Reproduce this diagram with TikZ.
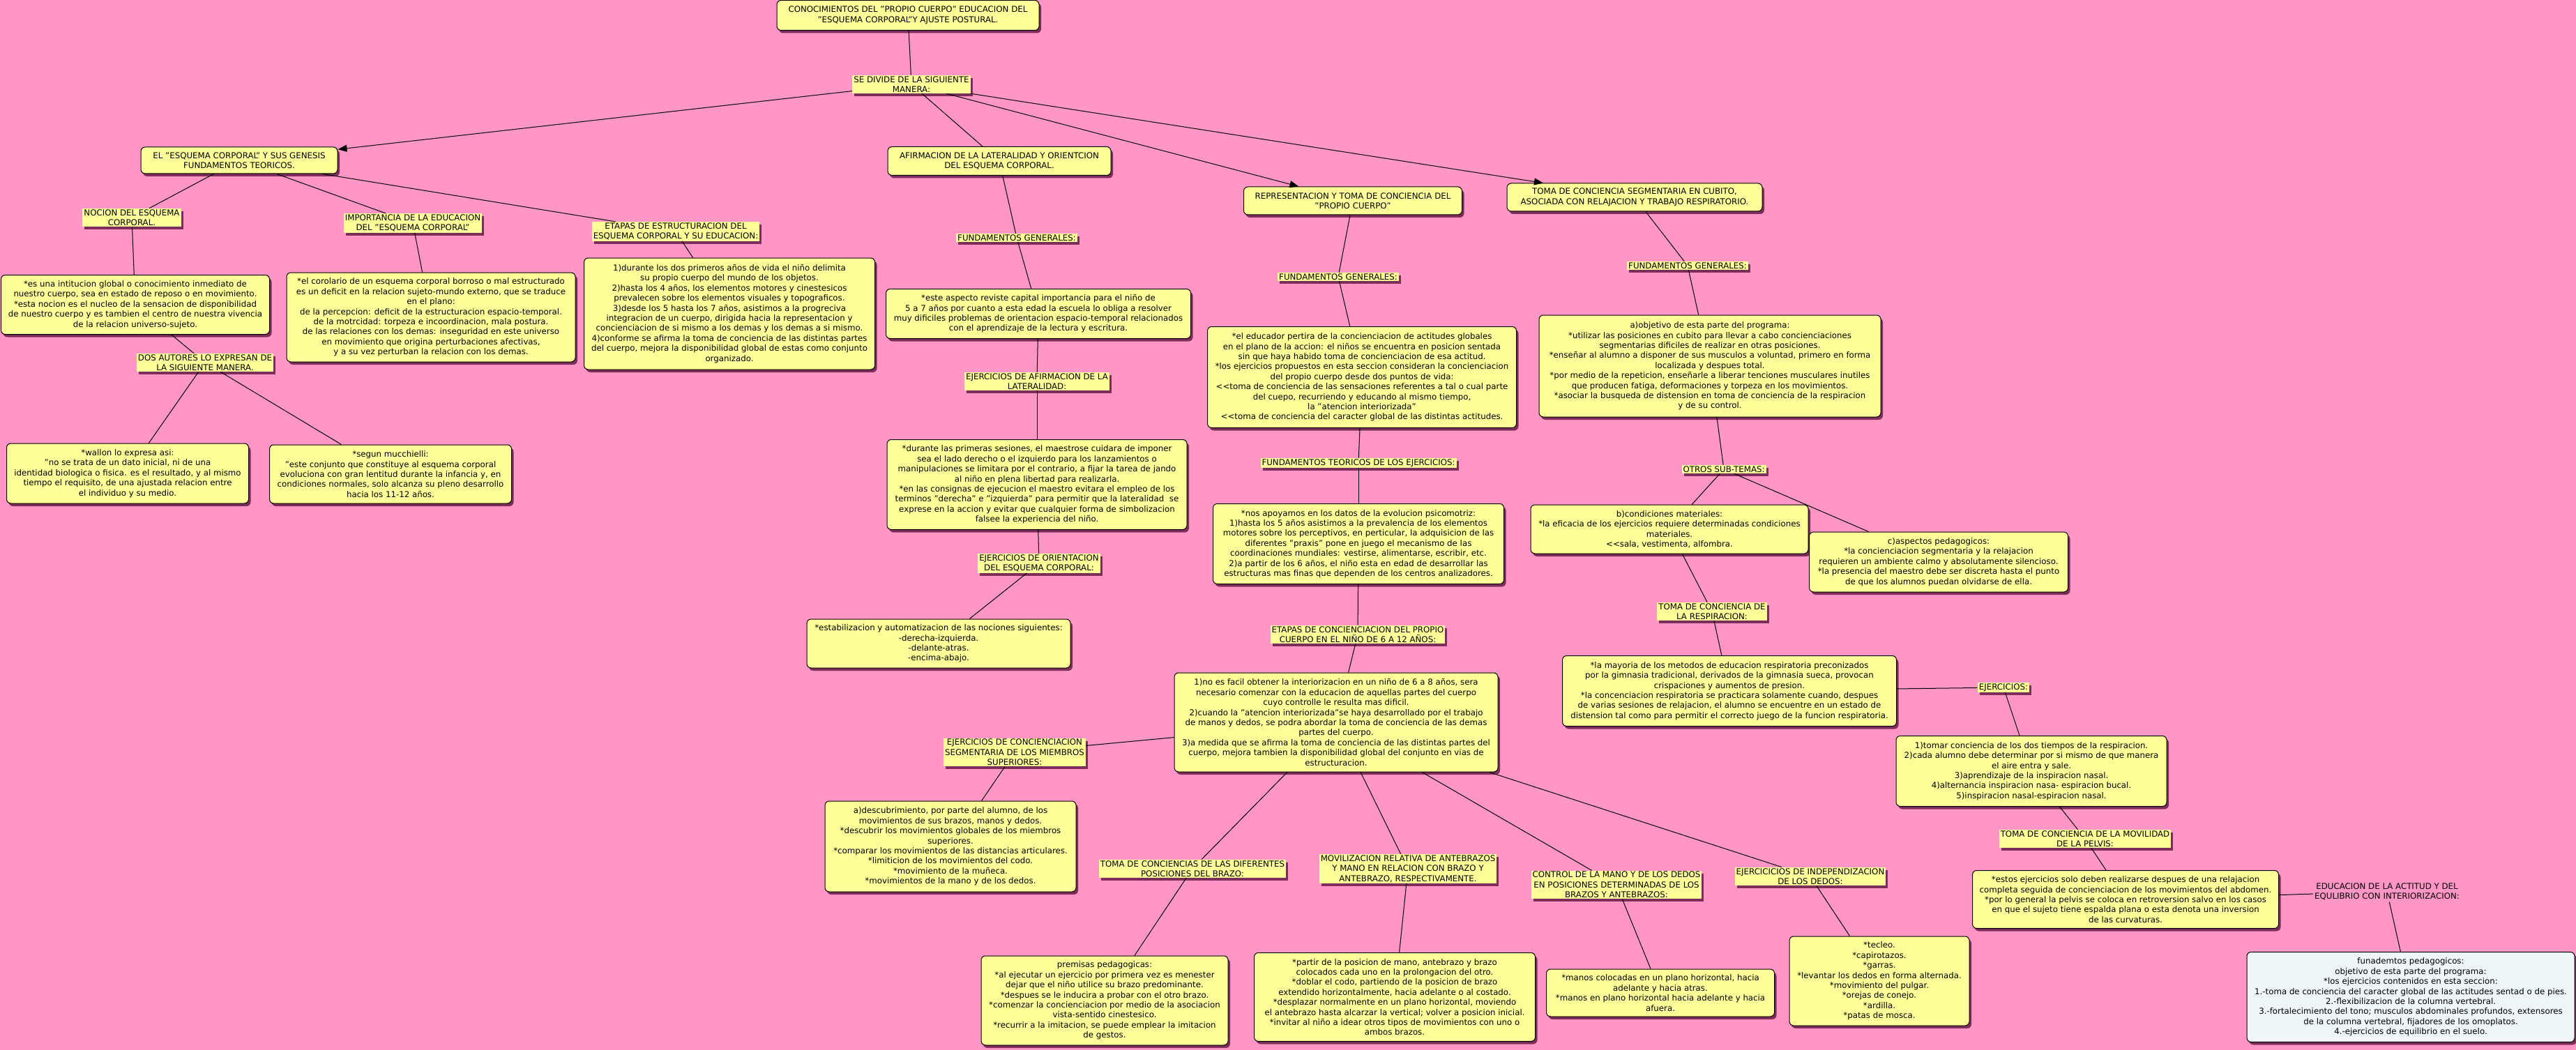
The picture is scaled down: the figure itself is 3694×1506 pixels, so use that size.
\documentclass[tikz,border=0pt]{standalone}
\usepackage{fontspec}
\setmainfont{DejaVu Sans}
\usetikzlibrary{shadows,arrows.meta}
\definecolor{bgpink}{RGB}{255,150,198}
\definecolor{boxyel}{RGB}{255,255,153}
\definecolor{shadowcol}{RGB}{125,45,90}
\definecolor{boxblue}{RGB}{238,246,248}
\begin{document}
\begin{tikzpicture}[x=1pt,y=-1pt,
  txt/.style={font=\fontsize{11.8}{14.4}\selectfont, align=center, text=black},
  shad/.style={drop shadow={shadow xshift=3pt,shadow yshift=-4pt,fill=shadowcol,opacity=1}},
  cbox/.style={txt, shad, draw=black, line width=1pt, fill=boxyel, rounded corners=6pt, inner xsep=6pt, inner ysep=5pt},
  bbox/.style={cbox, fill=boxblue},
  clab/.style={txt, shad, fill=boxyel, inner xsep=2pt, inner ysep=1.5pt},
  plainlab/.style={txt, inner sep=2pt},
  conn/.style={draw=black, line width=1pt},
  arr/.style={conn, -{Triangle[length=13pt,width=10pt]}}
]
\fill[bgpink] (0,0) rectangle (3694,1506);
\useasboundingbox (0,0) rectangle (3694,1506);

% ---------- top ----------
\node[cbox, minimum width=376, minimum height=43] (root) at (1302,22) {CONOCIMIENTOS DEL "PROPIO CUERPO" EDUCACION DEL\\"ESQUEMA CORPORAL"Y AJUSTE POSTURAL.};
\node[clab] (sediv) at (1307,121) {SE DIVIDE DE LA SIGUIENTE\\MANERA:};

\node[cbox, minimum width=282, minimum height=38] (esq) at (343,230) {EL "ESQUEMA CORPORAL" Y SUS GENESIS\\FUNDAMENTOS TEORICOS.};
\node[cbox, minimum width=320, minimum height=41] (afir) at (1433,231) {AFIRMACION DE LA LATERALIDAD Y ORIENTCION\\DEL ESQUEMA CORPORAL.};
\node[cbox, minimum width=313, minimum height=40] (repr) at (1940,288) {REPRESENTACION Y TOMA DE CONCIENCIA DEL\\"PROPIO CUERPO"};
\node[cbox, minimum width=366, minimum height=40] (tseg) at (2344,283) {TOMA DE CONCIENCIA SEGMENTARIA EN CUBITO,\\ASOCIADA CON RELAJACION Y TRABAJO RESPIRATORIO.};

% ---------- left branch ----------
\node[clab] (nocion) at (189,312) {NOCION DEL ESQUEMA\\CORPORAL.};
\node[clab] (import) at (592,320) {IMPORTANCIA DE LA EDUCACION\\DEL "ESQUEMA CORPORAL"};
\node[clab] (etapas1) at (969,332) {ETAPAS DE ESTRUCTURACION DEL\\ESQUEMA CORPORAL Y SU EDUCACION:};

\node[cbox, minimum width=385, minimum height=85] (b1) at (194,437) {*es una intitucion global o conocimiento inmediato de\\nuestro cuerpo, sea en estado de reposo o en movimiento.\\*esta nocion es el nucleo de la sensacion de disponibilidad\\de nuestro cuerpo y es tambien el centro de nuestra vivencia\\de la relacion universo-sujeto.};
\node[cbox, minimum width=414, minimum height=128] (b2) at (618,455) {*el corolario de un esquema corporal borroso o mal estructurado\\es un deficit en la relacion sujeto-mundo externo, que se traduce\\en el plano:\\de la percepcion: deficit de la estructuracion espacio-temporal.\\de la motrcidad: torpeza e incoordinacion, mala postura.\\de las relaciones con los demas: inseguridad en este universo\\en movimiento que origina perturbaciones afectivas,\\y a su vez perturban la relacion con los demas.};
\node[cbox, minimum width=417, minimum height=160] (b3) at (1046,450) {1)durante los dos primeros años de vida el niño delimita\\su propio cuerpo del mundo de los objetos.\\2)hasta los 4 años, los elementos motores y cinestesicos\\prevalecen sobre los elementos visuales y topograficos.\\3)desde los 5 hasta los 7 años, asistimos a la progreciva\\integracion de un cuerpo, dirigida hacia la representacion y\\concienciacion de si mismo a los demas y los demas a si mismo.\\4)conforme se afirma la toma de conciencia de las distintas partes\\del cuerpo, mejora la disponibilidad global de estas como conjunto\\organizado.};

\node[clab] (dos) at (294,520) {DOS AUTORES LO EXPRESAN DE\\LA SIGUIENTE MANERA.};
\node[cbox, minimum width=347, minimum height=86] (wallon) at (183,679) {*wallon lo expresa asi:\\"no se trata de un dato inicial, ni de una\\identidad biologica o fisica. es el resultado, y al mismo\\tiempo el requisito, de una ajustada relacion entre\\el individuo y su medio.};
\node[cbox, minimum width=347, minimum height=84] (mucc) at (560,680) {*segun mucchielli:\\"este conjunto que constituye al esquema corporal\\evoluciona con gran lentitud durante la infancia y, en\\condiciones normales, solo alcanza su pleno desarrollo\\hacia los 11-12 años.};

% ---------- afirmacion branch ----------
\node[clab] (fg1) at (1458,341) {FUNDAMENTOS GENERALES:};
\node[cbox, minimum width=437, minimum height=71] (este) at (1489,450) {*este aspecto reviste capital importancia para el niño de\\5 a 7 años por cuanto a esta edad la escuela lo obliga a resolver\\muy dificiles problemas de orientacion espacio-temporal relacionados\\con el aprendizaje de la lectura y escritura.};
\node[clab] (ejafirm) at (1487,547) {EJERCICIOS DE AFIRMACION DE LA\\LATERALIDAD:};
\node[cbox, minimum width=430, minimum height=129] (durante) at (1487,695) {*durante las primeras sesiones, el maestrose cuidara de imponer\\sea el lado derecho o el izquierdo para los lanzamientos o\\manipulaciones se limitara por el contrario, a fijar la tarea de jando\\al niño en plena libertad para realizarla.\\*en las consignas de ejecucion el maestro evitara el empleo de los\\terminos "derecha" e "izquierda" para permitir que la lateralidad\ \ se\\exprese en la accion y evitar que cualquier forma de simbolizacion\\falsee la experiencia del niño.};
\node[clab] (ejorient) at (1490,808) {EJERCICIOS DE ORIENTACION\\DEL ESQUEMA CORPORAL:};
\node[cbox, minimum width=378, minimum height=70] (estab) at (1346,923) {*estabilizacion y automatizacion de las nociones siguientes:\\-derecha-izquierda.\\-delante-atras.\\-encima-abajo.};

% ---------- representacion branch ----------
\node[clab] (fg2) at (1919,397) {FUNDAMENTOS GENERALES:};
\node[cbox, minimum width=443, minimum height=145] (educ) at (1953,541) {*el educador pertira de la concienciacion de actitudes globales\\en el plano de la accion: el niños se encuentra en posicion sentada\\sin que haya habido toma de concienciacion de esa actitud.\\*los ejercicios propuestos en esta seccion consideran la concienciacion\\del propio cuerpo desde dos puntos de vida:\\<{}<toma de conciencia de las sensaciones referentes a tal o cual parte\\del cuepo, recurriendo y educando al mismo tiempo,\\la "atencion interiorizada"\\<{}<toma de conciencia del caracter global de las distintas actitudes.};
\node[clab] (fteor) at (1948,664) {FUNDAMENTOS TEORICOS DE LOS EJERCICIOS:};
\node[cbox, minimum width=417, minimum height=115] (nos) at (1948,780) {*nos apoyamos en los datos de la evolucion psicomotriz:\\1)hasta los 5 años asistimos a la prevalencia de los elementos\\motores sobre los perceptivos, en perticular, la adquisicion de las\\diferentes "praxis" pone en juego el mecanismo de las\\coordinaciones mundiales: vestirse, alimentarse, escribir, etc.\\2)a partir de los 6 años, el niño esta en edad de desarrollar las\\estructuras mas finas que dependen de los centros analizadores.};
\node[clab] (etapas2) at (1947,910) {ETAPAS DE CONCIENCIACION DEL PROPIO\\CUERPO EN EL NIÑO DE 6 A 12 AÑOS:};
\node[cbox, minimum width=464, minimum height=142] (nofacil) at (1916,1036) {1)no es facil obtener la interiorizacion en un niño de 6 a 8 años, sera\\necesario comenzar con la educacion de aquellas partes del cuerpo\\cuyo controlle le resulta mas dificil.\\2)cuando la "atencion interiorizada"se haya desarrollado por el trabajo\\de manos y dedos, se podra abordar la toma de conciencia de las demas\\partes del cuerpo.\\3)a medida que se afirma la toma de conciencia de las distintas partes del\\cuerpo, mejora tambien la disponibilidad global del conjunto en vias de\\estructuracion.};

\node[clab] (ejseg) at (1455,1079) {EJERCICIOS DE CONCIENCIACION\\SEGMENTARIA DE LOS MIEMBROS\\SUPERIORES:};
\node[cbox, minimum width=360, minimum height=130] (adesc) at (1363,1214) {a)descubrimiento, por parte del alumno, de los\\movimientos de sus brazos, manos y dedos.\\*descubrir los movimientos globales de los miembros\\superiores.\\*comparar los movimientos de las distancias articulares.\\*limiticion de los movimientos del codo.\\*movimiento de la muñeca.\\*movimientos de la mano y de los dedos.};
\node[clab] (tbrazo) at (1710,1246) {TOMA DE CONCIENCIAS DE LAS DIFERENTES\\POSICIONES DEL BRAZO:};
\node[cbox, minimum width=354, minimum height=128] (premisas) at (1584,1435) {premisas pedagogicas:\\*al ejecutar un ejercicio por primera vez es menester\\dejar que el niño utilice su brazo predominante.\\*despues se le inducira a probar con el otro brazo.\\*comenzar la concienciacion por medio de la asociacion\\vista-sentido cinestesico.\\*recurrir a la imitacion, se puede emplear la imitacion\\de gestos.};
\node[clab] (moviliz) at (2019,1246) {MOVILIZACION RELATIVA DE ANTEBRAZOS\\Y MANO EN RELACION CON BRAZO Y\\ANTEBRAZO, RESPECTIVAMENTE.};
\node[cbox, minimum width=403, minimum height=127] (partir) at (2000,1430) {*partir de la posicion de mano, antebrazo y brazo\\colocados cada uno en la prolongacion del otro.\\*doblar el codo, partiendo de la posicion de brazo\\extendido horizontalmente, hacia adelante o al costado.\\*desplazar normalmente en un plano horizontal, moviendo\\el antebrazo hasta alcarzar la vertical; volver a posicion inicial.\\*invitar al niño a idear otros tipos de movimientos con uno o\\ambos brazos.};
\node[clab] (control) at (2318,1269) {CONTROL DE LA MANO Y DE LOS DEDOS\\EN POSICIONES DETERMINADAS DE LOS\\BRAZOS Y ANTEBRAZOS:};
\node[cbox, minimum width=327, minimum height=68] (manos) at (2381,1424) {*manos colocadas en un plano horizontal, hacia\\adelante y hacia atras.\\*manos en plano horizontal hacia adelante y hacia\\afuera.};
\node[clab] (indep) at (2596,1257) {EJERCICICIOS DE INDEPENDIZACION\\DE LOS DEDOS:};
\node[cbox, minimum width=258, minimum height=128] (tecleo) at (2695,1407) {*tecleo.\\*capirotazos.\\*garras.\\*levantar los dedos en forma alternada.\\*movimiento del pulgar.\\*orejas de conejo.\\*ardilla.\\*patas de mosca.};

% ---------- segmentaria branch ----------
\node[clab] (fg3) at (2420,381) {FUNDAMENTOS GENERALES:};
\node[cbox, minimum width=490, minimum height=146] (aobj) at (2452,525) {a)objetivo de esta parte del programa:\\*utilizar las posiciones en cubito para llevar a cabo concienciaciones\\segmentarias dificiles de realizar en otras posiciones.\\*enseñar al alumno a disponer de sus musculos a voluntad, primero en forma\\localizada y despues total.\\*por medio de la repeticion, enseñarle a liberar tenciones musculares inutiles\\que producen fatiga, deformaciones y torpeza en los movimientos.\\*asociar la busqueda de distension en toma de conciencia de la respiracion\\y de su control.};
\node[clab] (otros) at (2472,673) {OTROS SUB-TEMAS:};
\node[cbox, minimum width=398, minimum height=70] (bcond) at (2394,759) {b)condiciones materiales:\\*la eficacia de los ejercicios requiere determinadas condiciones\\materiales.\\<{}<sala, vestimenta, alfombra.};
\node[cbox, minimum width=371, minimum height=86] (casp) at (2780,806) {c)aspectos pedagogicos:\\*la concienciacion segmentaria y la relajacion\\requieren un ambiente calmo y absolutamente silencioso.\\*la presencia del maestro debe ser discreta hasta el punto\\de que los alumnos puedan olvidarse de ella.};
\node[clab] (tresp) at (2455,877) {TOMA DE CONCIENCIA DE\\LA RESPIRACION:};
\node[cbox, minimum width=479, minimum height=101] (mayoria) at (2480,991) {*la mayoria de los metodos de educacion respiratoria preconizados\\por la gimnasia tradicional, derivados de la gimnasia sueca, provocan\\crispaciones y aumentos de presion.\\*la concenciacion respiratoria se practicara solamente cuando, despues\\de varias sesiones de relajacion, el alumno se encuentre en un estado de\\distension tal como para permitir el correcto juego de la funcion respiratoria.};
\node[clab] (ejer) at (2873,986) {EJERCICIOS:};
\node[cbox, minimum width=388, minimum height=101] (tomar) at (2913,1106) {1)tomar conciencia de los dos tiempos de la respiracion.\\2)cada alumno debe determinar por si mismo de que manera\\el aire entra y sale.\\3)aprendizaje de la inspiracion nasal.\\4)alternancia inspiracion nasa- espiracion bucal.\\5)inspiracion nasal-espiracion nasal.};
\node[clab] (pelvis) at (2990,1203) {TOMA DE CONCIENCIA DE LA MOVILIDAD\\DE LA PELVIS:};
\node[cbox, minimum width=439, minimum height=83] (estos) at (3048,1290) {*estos ejercicios solo deben realizarse despues de una relajacion\\completa seguida de concienciacion de los movimientos del abdomen.\\*por lo general la pelvis se coloca en retroversion salvo en los casos\\en que el sujeto tiene espalda plana o esta denota una inversion\\de las curvaturas.};
\node[plainlab] (educa) at (3423,1279) {EDUCACION DE LA ACTITUD Y DEL\\EQULIBRIO CON INTERIORIZACION:};
\node[bbox, minimum width=470, minimum height=129] (funad) at (3457,1430) {funademtos pedagogicos:\\objetivo de esta parte del programa:\\*los ejercicios contenidos en esta seccion:\\1.-toma de conciencia del caracter global de las actitudes sentad o de pies.\\2.-flexibilizacion de la columna vertebral.\\3.-fortalecimiento del tono; musculos abdominales profundos, extensores\\de la columna vertebral, fijadores de los omoplatos.\\4.-ejercicios de equilibrio en el suelo.};

% ---------- connectors ----------
\draw[conn] (root) -- (sediv);
\draw[arr] (sediv) -- (esq);
\draw[conn] (sediv) -- (afir);
\draw[arr] (sediv) -- (repr);
\draw[arr] (sediv) -- (tseg);

\draw[conn] (esq) -- (nocion);
\draw[conn] (esq) -- (import);
\draw[conn] (esq) -- (etapas1);
\draw[conn] (nocion) -- (b1);
\draw[conn] (import) -- (b2);
\draw[conn] (etapas1) -- (b3);
\draw[conn] (b1) -- (dos);
\draw[conn] (dos) -- (wallon);
\draw[conn] (dos) -- (mucc);

\draw[conn] (afir) -- (fg1);
\draw[conn] (fg1) -- (este);
\draw[conn] (este) -- (ejafirm);
\draw[conn] (ejafirm) -- (durante);
\draw[conn] (durante) -- (ejorient);
\draw[conn] (ejorient) -- (estab);

\draw[conn] (repr) -- (fg2);
\draw[conn] (fg2) -- (educ);
\draw[conn] (educ) -- (fteor);
\draw[conn] (fteor) -- (nos);
\draw[conn] (nos) -- (etapas2);
\draw[conn] (etapas2) -- (nofacil);
\draw[conn] (nofacil) -- (ejseg);
\draw[conn] (ejseg) -- (adesc);
\draw[conn] (nofacil) -- (tbrazo);
\draw[conn] (tbrazo) -- (premisas);
\draw[conn] (nofacil) -- (moviliz);
\draw[conn] (moviliz) -- (partir);
\draw[conn] (nofacil) -- (control);
\draw[conn] (control) -- (manos);
\draw[conn] (nofacil) -- (indep);
\draw[conn] (indep) -- (tecleo);

\draw[conn] (tseg) -- (fg3);
\draw[conn] (fg3) -- (aobj);
\draw[conn] (aobj) -- (otros);
\draw[conn] (otros) -- (bcond);
\draw[conn] (otros) -- (casp);
\draw[conn] (bcond) -- (tresp);
\draw[conn] (tresp) -- (mayoria);
\draw[conn] (mayoria) -- (ejer);
\draw[conn] (ejer) -- (tomar);
\draw[conn] (tomar) -- (pelvis);
\draw[conn] (pelvis) -- (estos);
\draw[conn] (estos) -- (educa);
\draw[conn] (educa) -- (funad);
\end{tikzpicture}
\end{document}
